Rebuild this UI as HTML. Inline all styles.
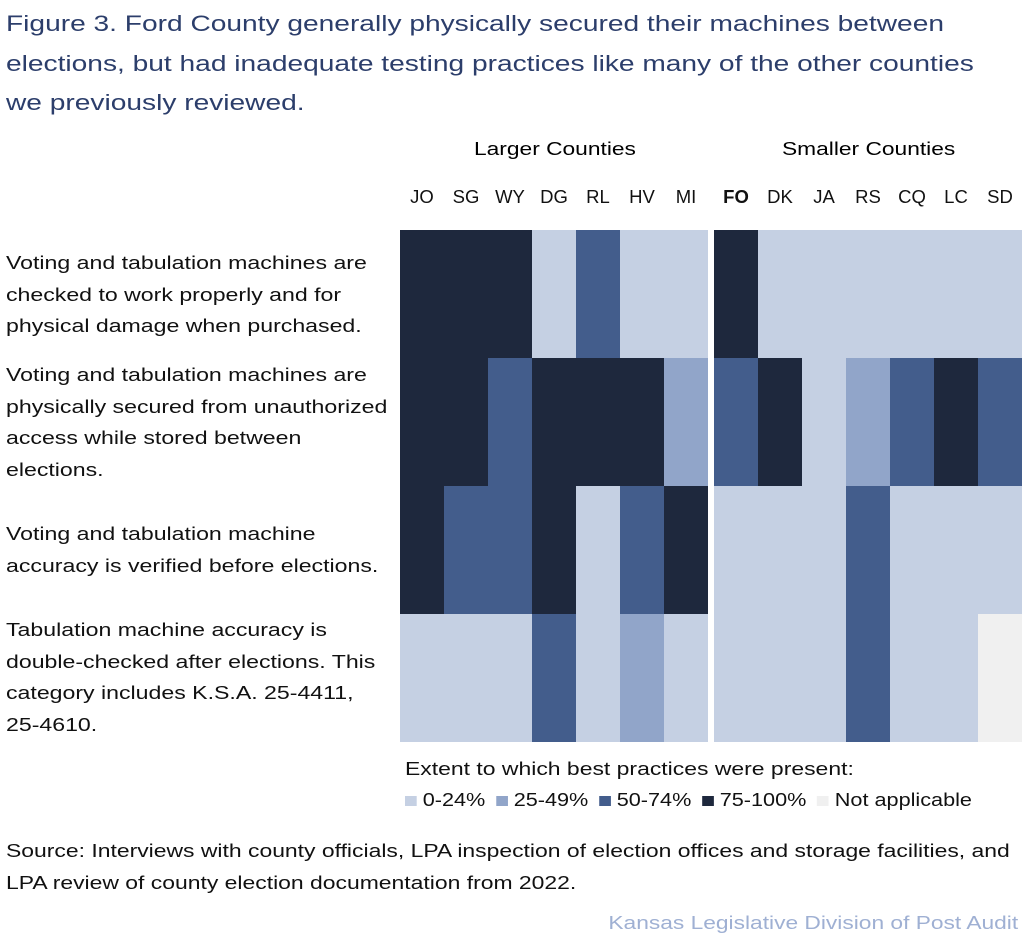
<!DOCTYPE html>
<html><head><meta charset="utf-8">
<style>
body{margin:0;width:1024px;height:944px;background:#fff;font-family:"Liberation Sans",sans-serif;position:relative;overflow:hidden}
.t{position:absolute;white-space:nowrap}
#title{left:6px;top:4px;font-size:22.5px;line-height:39.5px;color:#2c3e6b;transform:scaleX(1.25);transform-origin:0 0}
.lbl{position:absolute;left:6px;font-size:18.2px;line-height:31.5px;color:#111;white-space:nowrap;transform:scaleX(1.27);transform-origin:0 0}
.col{position:absolute;top:186px;width:44px;text-align:center;font-size:18.5px;color:#111}
.leg{font-size:18.5px;color:#111}
</style></head><body>
<div id="title" class="t">Figure 3. Ford County generally physically secured their machines between<br>elections, but had inadequate testing practices like many of the other counties<br>we previously reviewed.</div>
<div class="t" style="left:474px;top:138px;font-size:18.5px;transform:scaleX(1.23);transform-origin:0 0">Larger Counties</div>
<div class="t" style="left:782px;top:138px;font-size:18.5px;transform:scaleX(1.23);transform-origin:0 0">Smaller Counties</div>
<div id="cols"></div>
<div class="lbl" style="top:248px">Voting and tabulation machines are<br>checked to work properly and for<br>physical damage when purchased.</div>
<div class="lbl" style="top:360px">Voting and tabulation machines are<br>physically secured from unauthorized<br>access while stored between<br>elections.</div>
<div class="lbl" style="top:519px">Voting and tabulation machine<br>accuracy is verified before elections.</div>
<div class="lbl" style="top:615px">Tabulation machine accuracy is<br>double-checked after elections. This<br>category includes K.S.A. 25-4411,<br>25-4610.</div>
<svg id="hm" width="1024" height="944" style="position:absolute;left:0;top:0"></svg>
<div class="t leg" style="left:405px;top:758px;transform:scaleX(1.24);transform-origin:0 0">Extent to which best practices were present:</div>
<div class="t leg" style="left:405px;top:789px;transform:scaleX(1.17);transform-origin:0 0">
<span><span style="display:inline-block;width:10px;height:10px;background:#c5d0e3"></span> 0-24%</span>
<span><span style="display:inline-block;width:10px;height:10px;background:#91a5c9;margin-left:4px"></span> 25-49%</span>
<span><span style="display:inline-block;width:10px;height:10px;background:#435d8c;margin-left:4px"></span> 50-74%</span>
<span><span style="display:inline-block;width:10px;height:10px;background:#1e283d;margin-left:4px"></span> 75-100%</span>
<span><span style="display:inline-block;width:10px;height:10px;background:#f0f0f0;margin-left:4px"></span> Not applicable</span>
</div>
<div class="t" style="left:6px;top:836px;font-size:18.2px;line-height:31.5px;color:#111;transform:scaleX(1.26);transform-origin:0 0">Source: Interviews with county officials, LPA inspection of election offices and storage facilities, and<br>LPA review of county election documentation from 2022.</div>
<div class="t" style="right:6px;top:912px;font-size:18.5px;color:#9fb0d3;transform:scaleX(1.23);transform-origin:100% 0">Kansas Legislative Division of Post Audit</div>
<script>
const counties=["JO","SG","WY","DG","RL","HV","MI","FO","DK","JA","RS","CQ","LC","SD"];
const row1=[3,3,3,0,2,0,0,3,0,0,0,0,0,0];
const row2=[3,3,2,3,3,3,1,2,3,0,1,2,3,2];
const row3=[3,2,2,3,0,2,3,0,0,0,2,0,0,0];
const row4=[0,0,0,2,0,1,0,0,0,0,2,0,0,-1];
const rows=[row1,row2,row3,row4];
const colors={"-1":"#f0f0f0","0":"#c5d0e3","1":"#91a5c9","2":"#435d8c","3":"#1e283d"};
function xPos(i){return 400+i*44+(i>=7?6:0);}
function yPos(r){return 230+r*128;}
const svg=document.getElementById('hm');
const ns="http://www.w3.org/2000/svg";
rows.forEach((row,r)=>row.forEach((v,i)=>{
 const rc=document.createElementNS(ns,'rect');
 rc.setAttribute('x',xPos(i));rc.setAttribute('y',yPos(r));
 rc.setAttribute('width',44);rc.setAttribute('height',128);
 rc.setAttribute('fill',colors[v]);
 
 
 svg.appendChild(rc);
}));
const cols=document.getElementById('cols');
counties.forEach((c,i)=>{
 const d=document.createElement('div');
 d.className='col';d.style.left=xPos(i)+'px';d.textContent=c;
 if(c==="FO")d.style.fontWeight='bold';
 
 
 cols.appendChild(d);
});
</script>
</body></html>
